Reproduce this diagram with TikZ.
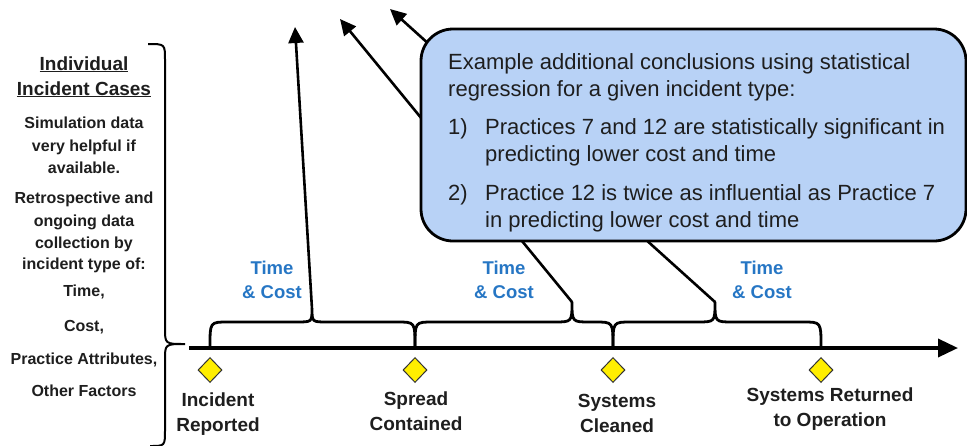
\documentclass[tikz,border=0pt]{standalone}
\usepackage{fontspec}
\setmainfont{Liberation Sans}
\usetikzlibrary{arrows.meta,shapes.geometric}
\definecolor{boxblue}{RGB}{184,210,246}
\definecolor{tcblue}{RGB}{38,118,196}
\definecolor{dk}{RGB}{30,30,30}
\definecolor{dyellow}{RGB}{255,238,0}
\begin{document}
\begin{tikzpicture}[x=1pt,y=-1pt,
  side/.style={font=\bfseries\fontsize{16}{18}\selectfont, text=dk, anchor=base, inner sep=0},
  head/.style={font=\bfseries\fontsize{19}{21}\selectfont, text=dk, anchor=base, inner sep=0},
  tc/.style={font=\bfseries\fontsize{18.5}{24}\selectfont, text=tcblue, align=center, inner sep=0},
  ms/.style={font=\bfseries\fontsize{19}{25}\selectfont, text=dk, align=center, inner sep=0},
  bt/.style={font=\fontsize{22}{26}\selectfont, text=dk, anchor=base west, inner sep=0},
  dia/.style={diamond, draw=black!80, line width=1pt, fill=dyellow, minimum width=24pt, minimum height=25pt, inner sep=0},
  brc/.style={line width=2.8pt, line join=round},
  arr/.style={line width=2.6pt, -{Triangle[length=16pt,width=15pt]}},
  callout/.style={draw=black, line width=2.8pt, fill=boxblue, rounded corners=32pt, minimum width=545pt, minimum height=212pt, inner sep=0}]
\useasboundingbox (0,0) rectangle (967,445);

% left column text
\node[head] (h1) at (84,70) {\underline{Individual}};
\node[head] (h2) at (84,95) {\underline{Incident Cases}};
\node[side] (s1) at (84,128) {Simulation data};
\node[side] (s2) at (84,151) {very helpful if};
\node[side] (s3) at (84,173) {available.};
\node[side] (s4) at (84,203) {Retrospective and};
\node[side] (s5) at (84,226) {ongoing data};
\node[side] (s6) at (84,248) {collection by};
\node[side] (s7) at (84,269) {incident type of:};
\node[side] (s8) at (84,296) {Time,};
\node[side] (s9) at (84,331) {Cost,};
\node[side] (s10) at (84,364) {Practice Attributes,};
\node[side] (s11) at (84,396) {Other Factors};

% left big brace
\draw[line width=2pt] (148,44) .. controls (165,44) .. (165,60) -- (165,328)
  .. controls (165,344) .. (185,344) .. controls (165,344) .. (165,360) -- (165,430)
  .. controls (165,446) .. (150,446);

% timeline
\coordinate (ts) at (189,348);
\coordinate (te) at (958,348);
\draw[line width=3.5pt, -{Triangle[length=20pt,width=18pt]}] (ts) -- (te);

% milestones
\node[dia] (d1) at (210,370) {};
\node[dia] (d2) at (415,370) {};
\node[dia] (d3) at (613,370) {};
\node[dia] (d4) at (821,370) {};
\node[ms] (m1) at (218,414) {Incident\\Reported};
\node[ms] (m2) at (416,411) {Spread\\Contained};
\node[ms] (m3) at (617,413) {Systems\\Cleaned};
\node[ms] (m4) at (830,409) {Systems Returned\\to Operation};

% braces
\coordinate (t1) at (312,309);
\coordinate (t2) at (572,302);
\coordinate (t3) at (715,302);
\draw[brc] (210,346) .. controls (210,322) .. (228,322) -- (296,322) .. controls (312,322) .. (t1)
  .. controls (312,322) .. (328,322) -- (397,322) .. controls (415,322) .. (415,346);
\draw[brc] (415,346) .. controls (415,322) .. (433,322) -- (554,322) .. controls (572,322) .. (t2)
  .. controls (572,322) .. (590,322) -- (595,322) .. controls (613,322) .. (613,346);
\draw[brc] (613,346) .. controls (613,322) .. (631,322) -- (697,322) .. controls (715,322) .. (t3)
  .. controls (715,322) .. (733,322) -- (803,322) .. controls (821,322) .. (821,346);

\node[tc] (c1) at (272,280) {Time\\\& Cost};
\node[tc] (c2) at (504,280) {Time\\\& Cost};
\node[tc] (c3) at (762,280) {Time\\\& Cost};

% arrows
\coordinate (a1) at (295,27);
\coordinate (a2) at (340,19);
\coordinate (a3) at (390,9);
\draw[arr] (t1) -- (a1);
\draw[arr] (t2) -- (a2);
\draw[arr] (t3) -- (a3);

% callout
\node[callout] (box) at (693.5,135) {};
\node[bt] (b1) at (448,69) {Example additional conclusions using statistical};
\node[bt] (b2) at (448,96) {regression for a given incident type:};
\node[bt] (n1) at (448,134) {1)};
\node[bt] (b3) at (485,134) {Practices 7 and 12 are statistically significant in};
\node[bt] (b4) at (485,161) {predicting lower cost and time};
\node[bt] (n2) at (448,200) {2)};
\node[bt] (b5) at (485,200) {Practice 12 is twice as influential as Practice 7};
\node[bt] (b6) at (485,227) {in predicting lower cost and time};
\end{tikzpicture}
\end{document}
